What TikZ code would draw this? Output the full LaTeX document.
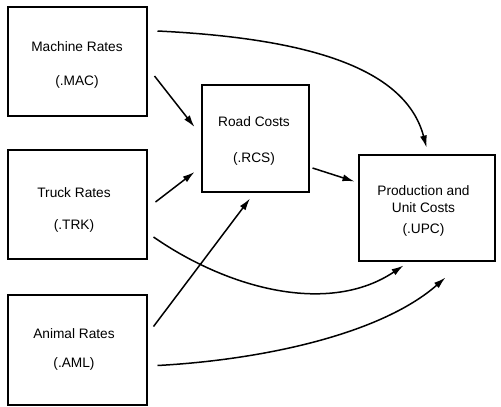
\documentclass[tikz,border=0pt]{standalone}
\usepackage{fontspec}
\setmainfont{Liberation Sans}
\usetikzlibrary{arrows.meta,calc}
\tikzset{
  box/.style={draw, line width=2pt, inner sep=0pt},
  lbl/.style={inner sep=0pt, align=center, font=\fontsize{13.7}{16}\selectfont},
  conn/.style={line width=1.5pt, -{Latex[length=12pt,width=7pt]}}
}
\begin{document}
\begin{tikzpicture}[x=1pt,y=-1pt]
\useasboundingbox (0,0) rectangle (501,407);
\node[box, minimum width=139pt, minimum height=109pt] (mac) at (77,61) {};
\node[box, minimum width=139pt, minimum height=109pt] (trk) at (77,204) {};
\node[box, minimum width=139pt, minimum height=110pt] (aml) at (77,349.5) {};
\node[box, minimum width=107pt, minimum height=107pt] (rcs) at (255,138) {};
\node[box, minimum width=136pt, minimum height=106pt] (upc) at (426.5,207.5) {};

\node[lbl] (mactxt) at ($(mac)+(0,3.5)$) {Machine Rates\\[18pt](.MAC)};
\node[lbl] (trktxt) at ($(trk)+(-3,5.5)$) {Truck Rates\\[16pt](.TRK)};
\node[lbl] (amltxt) at ($(aml)+(-3,0)$) {Animal Rates\\[13pt](.AML)};
\node[lbl] (rcstxt) at ($(rcs)+(-1,2.5)$) {Road Costs\\[20pt](.RCS)};
\node[lbl] (upctxt) at ($(upc)+(-3,3)$) {Production and\\[1pt]Unit Costs\\[5pt](.UPC)};

\draw[conn] ($(mac.east)+(7,15)$) -- ($(rcs.west)+(-6,-11)$);
\draw[conn] ($(mac.east)+(10,-30)$) .. controls (300,38) and (405,65) .. ($(upc.north)+(0,-6)$);
\draw[conn] ($(trk.east)+(8,-2)$) -- ($(rcs.west)+(-6,34)$);
\draw[conn] ($(rcs.east)+(3,30)$) -- ($(upc.west)+(-3,-26)$);
\draw[conn] ($(trk.east)+(6,33)$) .. controls (230,290) and (330,315) .. ($(upc.south)+(-23,4)$);
\draw[conn] ($(aml.east)+(6,-23)$) -- ($(rcs.south)+(-5,6)$);
\draw[conn] ($(aml.east)+(10,16)$) .. controls (260,360) and (380,335) .. ($(upc.south)+(19,16)$);
\end{tikzpicture}
\end{document}
